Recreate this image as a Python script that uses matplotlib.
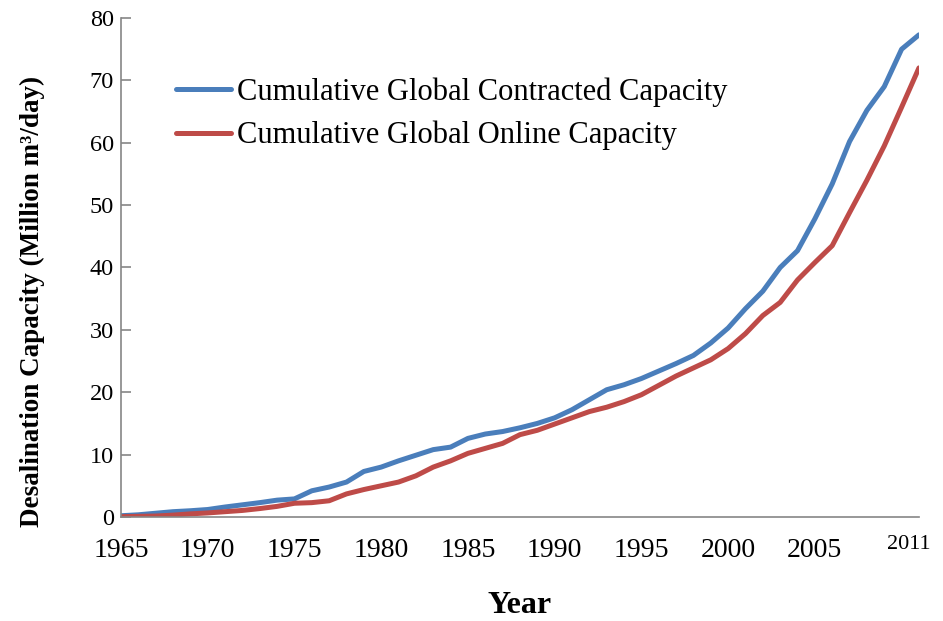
import numpy as np
import matplotlib.pyplot as plt
from matplotlib.transforms import ScaledTranslation

years = np.arange(1965, 2012)

# cumulative capacity, million m3/day
contracted = [0.2, 0.35, 0.6, 0.85, 1.0, 1.2, 1.6, 1.95, 2.3, 2.7,
              2.9, 4.2, 4.8, 5.6, 7.3, 8.0, 9.0, 9.9, 10.8, 11.2,
              12.6, 13.3, 13.7, 14.3, 15.0, 15.9, 17.2, 18.8, 20.4, 21.2,
              22.2, 23.4, 24.6, 25.9, 27.9, 30.3, 33.4, 36.2, 40.0, 42.7,
              47.8, 53.4, 60.2, 65.2, 69.0, 75.0, 77.3]
online = [0.05, 0.1, 0.15, 0.3, 0.5, 0.65, 0.85, 1.05, 1.35, 1.7,
          2.2, 2.3, 2.6, 3.7, 4.4, 5.0, 5.6, 6.6, 8.0, 9.0,
          10.2, 11.0, 11.8, 13.2, 13.9, 14.9, 15.9, 16.9, 17.6, 18.5,
          19.6, 21.1, 22.6, 23.9, 25.2, 27.0, 29.4, 32.3, 34.4, 38.0,
          40.8, 43.5, 48.8, 54.0, 59.5, 65.7, 72.0]

tick_years = [1965, 1970, 1975, 1980, 1985, 1990, 1995, 2000, 2005, 2011]

plt.rcParams['font.family'] = ['Liberation Serif', 'DejaVu Serif']

fig = plt.figure(figsize=(9.43, 6.21), dpi=100)
ax = fig.add_axes([0.1283, 0.1675, 0.8462, 0.8035])

ax.plot(years, contracted, color='#4A7EBB', lw=3.6, solid_joinstyle='round',
        solid_capstyle='round', label='Cumulative Global Contracted Capacity')
ax.plot(years, online, color='#BE4B48', lw=3.6, solid_joinstyle='round',
        solid_capstyle='round', label='Cumulative Global Online Capacity')

ax.set_xlim(1965, 2011)
ax.set_ylim(0, 80)
ax.set_yticks(range(0, 81, 10))
ax.set_xticks(tick_years)
ax.set_xticklabels([str(y) for y in tick_years])

for s in ['top', 'right']:
    ax.spines[s].set_visible(False)
for s in ['left', 'bottom']:
    ax.spines[s].set_color('#868686')
    ax.spines[s].set_linewidth(1.2)

ax.tick_params(axis='y', direction='in', length=7, width=1.2, color='#868686',
               labelsize=17.5, pad=5)
ax.tick_params(axis='x', length=0, labelsize=20, pad=15)

# the last year label sits a little left and higher, in a smaller size
last = ax.get_xticklabels()[-1]
last.set_fontsize(16)
last.set_transform(last.get_transform() + ScaledTranslation(-0.1, 0.03, fig.dpi_scale_trans))

ax.set_ylabel('Desalination Capacity (Million m³/day)', fontsize=19.5,
              fontweight='bold')
ax.yaxis.set_label_coords(-0.095, 0.431)
ax.set_xlabel('Year', fontsize=23, fontweight='bold', labelpad=20)

ax.legend(loc='upper left', bbox_to_anchor=(0.053, 0.905), frameon=False,
          fontsize=22, handlelength=1.8, handletextpad=0.2, labelspacing=0.45,
          borderaxespad=0)

fig.savefig('out.png', dpi=100)
